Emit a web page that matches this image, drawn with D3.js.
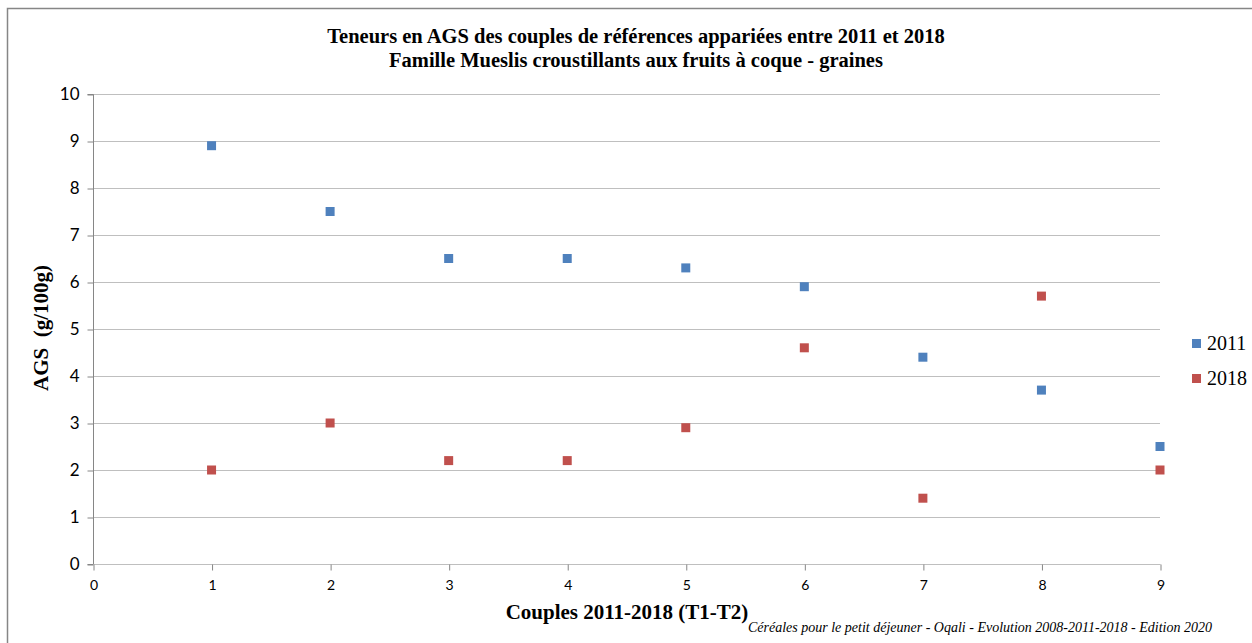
<!DOCTYPE html>
<html>
<head>
<meta charset="utf-8">
<script src="https://cdn.jsdelivr.net/npm/d3@7"></script>
<style>
  html, body { margin: 0; padding: 0; background: #fff; }
  svg { display: block; }
</style>
</head>
<body>
<div id="chart"></div>
<script>
/* AGS paired references 2011 vs 2018 — scatter */

const couples = [1, 2, 3, 4, 5, 6, 7, 8, 9];
const ags2011 = [8.9, 7.5, 6.5, 6.5, 6.3, 5.9, 4.4, 3.7, 2.5];
const ags2018 = [2.0, 3.0, 2.2, 2.2, 2.9, 4.6, 1.4, 5.7, 2.0];
const xTicks = [0, 1, 2, 3, 4, 5, 6, 7, 8, 9];
const yTicks = [0, 1, 2, 3, 4, 5, 6, 7, 8, 9, 10];
const seriesNames = ['2011', '2018'];

const COLORS = { '2011': '#4f81bd', '2018': '#c0504d' };
const SERIF = "'Liberation Serif', 'DejaVu Serif', serif";
const SANS = "Lato, 'Open Sans', 'Liberation Sans', sans-serif";

const W = 1252, H = 643;
const plot = { left: 93, right: 1160, top: 94, bottom: 564 };

const svg = d3.select('#chart').append('svg')
  .attr('width', W).attr('height', H);

/* chart frame (only top + left visible in the crop) */
svg.append('path')
  .attr('d', `M7.5,${H} V8.5 H${W}`)
  .attr('fill', 'none')
  .attr('stroke', '#868686')
  .attr('stroke-width', 1.5);

const x = d3.scaleLinear().domain([0, 9]).range([plot.left, plot.right]);
const y = d3.scaleLinear().domain([0, 10]).range([plot.bottom, plot.top]);

/* gridlines */
svg.append('g').selectAll('line')
  .data(yTicks.filter(t => t > 0))
  .join('line')
  .attr('x1', plot.left).attr('x2', plot.right)
  .attr('y1', d => Math.round(y(d)) + 0.5).attr('y2', d => Math.round(y(d)) + 0.5)
  .attr('stroke', '#bfbfbf').attr('stroke-width', 1);

/* y axis */
const yAxis = svg.append('g')
  .attr('transform', `translate(${plot.left + 0.5},0.5)`)
  .call(d3.axisLeft(y).tickValues(yTicks).tickSize(6).tickPadding(8).tickFormat(d3.format('d')));
yAxis.select('.domain').attr('stroke', '#868686').attr('d', `M-6,${plot.bottom}H0V${plot.top}H-6`);
yAxis.selectAll('.tick line').attr('stroke', '#868686');
yAxis.selectAll('.tick text')
  .attr('font-family', SANS).attr('font-size', 17).attr('fill', '#000');

/* x axis */
const xAxis = svg.append('g')
  .attr('transform', `translate(0.5,${plot.bottom + 0.5})`)
  .call(d3.axisBottom(x).tickValues(xTicks).tickSize(6).tickPadding(10).tickFormat(d3.format('d')));
xAxis.select('.domain').attr('stroke', '#bfbfbf').attr('d', `M${plot.left},0H${plot.right}`);
xAxis.selectAll('.tick line').attr('stroke', '#868686');
xAxis.selectAll('.tick text')
  .attr('font-family', SANS).attr('font-size', 14).attr('fill', '#000');

/* markers */
const MS = 9;
const series = [
  { name: '2011', values: ags2011 },
  { name: '2018', values: ags2018 },
];
series.forEach(s => {
  svg.append('g').selectAll('rect')
    .data(couples.map((c, i) => [c, s.values[i]]))
    .join('rect')
    .attr('x', d => x(d[0]) - MS / 2)
    .attr('y', d => y(d[1]) - MS / 2)
    .attr('width', MS).attr('height', MS)
    .attr('fill', COLORS[s.name]);
});

/* title */
const title = svg.append('text')
  .attr('x', 636).attr('text-anchor', 'middle')
  .attr('font-family', SERIF).attr('font-weight', 'bold').attr('font-size', 20.5)
  .attr('fill', '#000');
title.append('tspan').attr('x', 636).attr('y', 43)
  .text('Teneurs en AGS des couples de références appariées entre 2011 et 2018');
title.append('tspan').attr('x', 636).attr('y', 67)
  .text('Famille Mueslis croustillants aux fruits à coque - graines');

/* axis titles */
svg.append('text')
  .attr('x', 627).attr('y', 619).attr('text-anchor', 'middle')
  .attr('font-family', SERIF).attr('font-weight', 'bold').attr('font-size', 21)
  .text('Couples 2011-2018 (T1-T2)');

svg.append('text')
  .attr('transform', 'translate(48,328) rotate(-90)')
  .attr('text-anchor', 'middle')
  .attr('font-family', SERIF).attr('font-weight', 'bold').attr('font-size', 21)
  .attr('xml:space', 'preserve')
  .text('AGS  (g/100g)');

/* footer */
svg.append('text')
  .attr('x', 1212).attr('y', 632).attr('text-anchor', 'end')
  .attr('font-family', SERIF).attr('font-style', 'italic').attr('font-size', 14)
  .text('Céréales pour le petit déjeuner - Oqali - Evolution 2008-2011-2018 - Edition 2020');

/* legend */
const legend = svg.append('g').selectAll('g')
  .data(seriesNames)
  .join('g')
  .attr('transform', (d, i) => `translate(1192,${343 + i * 35})`);
legend.append('rect')
  .attr('x', 0).attr('y', -4).attr('width', 9).attr('height', 9)
  .attr('fill', d => COLORS[d]);
legend.append('text')
  .attr('x', 15).attr('y', 7)
  .attr('font-family', SERIF).attr('font-size', 20)
  .text(d => d);
</script>
</body>
</html>
